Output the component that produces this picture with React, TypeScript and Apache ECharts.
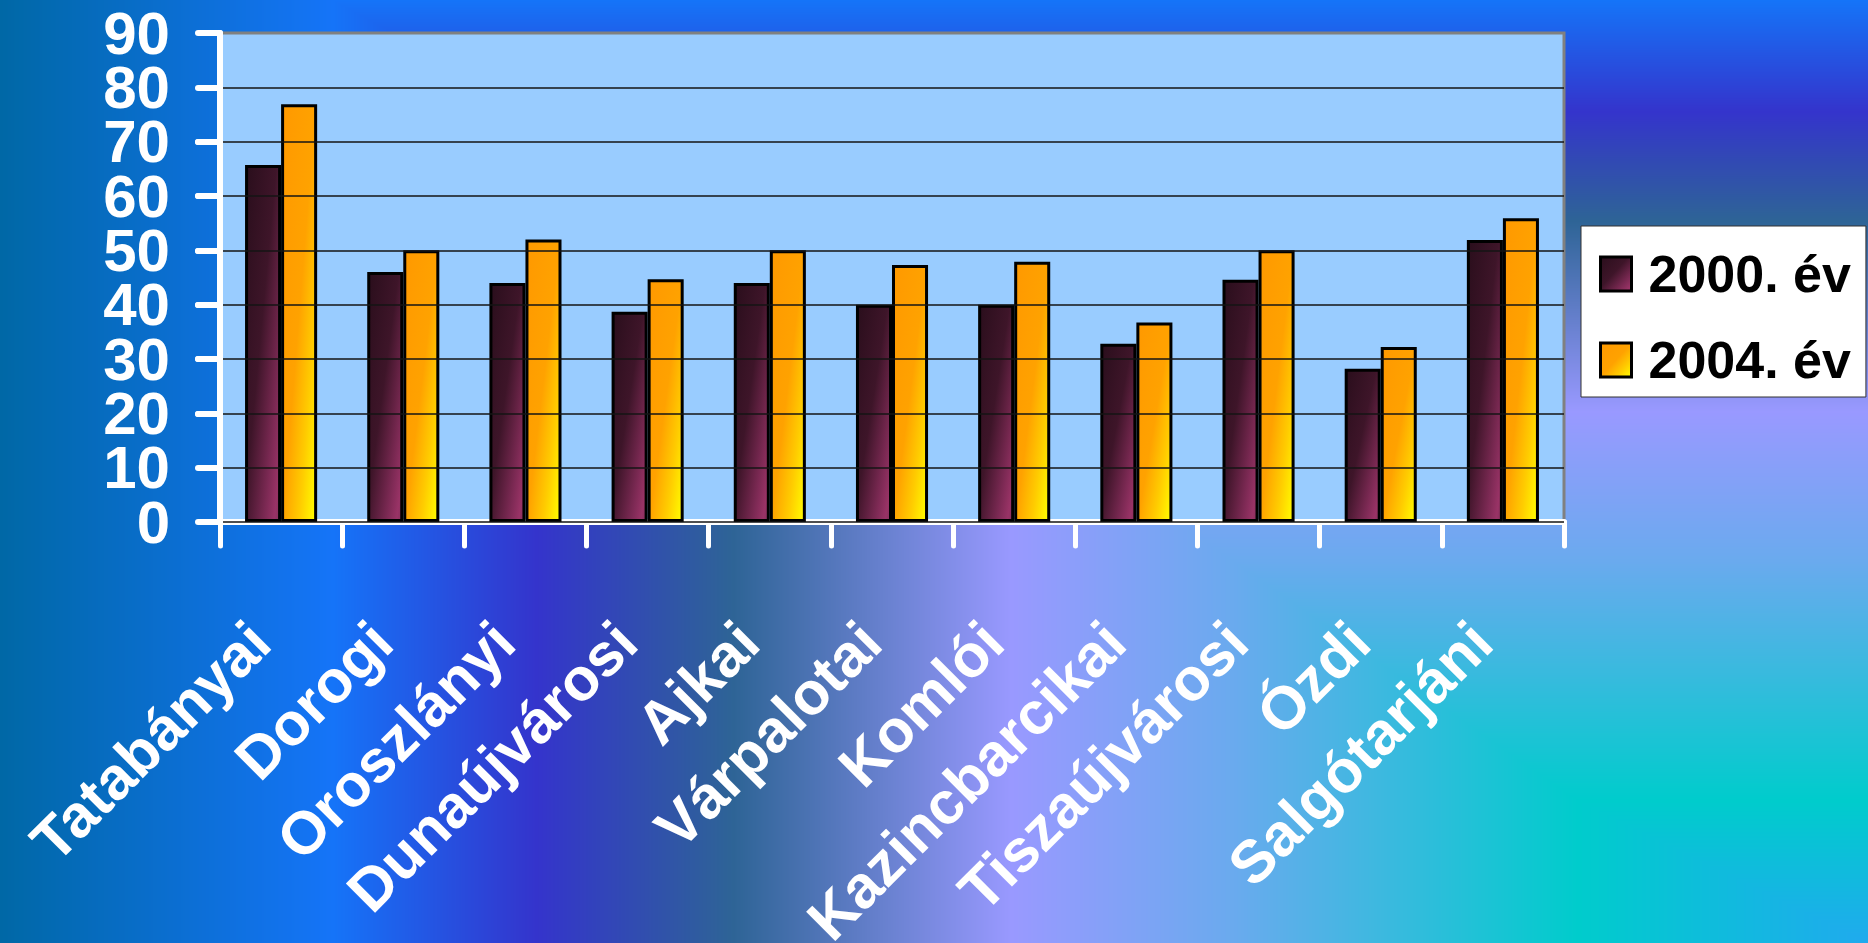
import React, { useEffect, useRef } from "react";
import * as echarts from "echarts";

const categories = [
  "Tatabányai",
  "Dorogi",
  "Oroszlányi",
  "Dunaújvárosi",
  "Ajkai",
  "Várpalotai",
  "Komlói",
  "Kazincbarcikai",
  "Tiszaújvárosi",
  "Ózdi",
  "Salgótarjáni",
];
const seriesNames = ["2000. év", "2004. év"];
const values2000 = [65.7, 46, 44, 38.7, 44, 40, 40, 32.8, 44.6, 28.2, 51.9];
const values2004 = [76.9, 50, 52, 44.7, 50, 47.3, 47.9, 36.7, 50, 32.2, 55.9];
const yMin = 0;
const yMax = 90;
const yInterval = 10;

const W = 1868;
const H = 943;

// background "from corner" gradient description (style)
const bgColors = ["#0068A6", "#1574F8", "#3434CC", "#2E6496", "#9999FF", "#6AAAEE", "#00CCCC", "#20AAEE"];
const bgXs = [0, 333, 536, 733, 1011, 1232, 1577, 1868];
const bgYs = [0, 111, 221, 411, 560, 800, 943]; // maps to indices 1..7

function hexRgb(h: string) {
  const n = parseInt(h.slice(1), 16);
  return [(n >> 16) & 255, (n >> 8) & 255, n & 255];
}

function piece(v: number, xs: number[], base: number) {
  if (v <= xs[0]) return base;
  for (let i = 1; i < xs.length; i++) {
    if (v <= xs[i]) return base + i - 1 + (v - xs[i - 1]) / (xs[i] - xs[i - 1]);
  }
  return base + xs.length - 1;
}

function drawBackground(canvas: HTMLCanvasElement) {
  const ctx = canvas.getContext("2d");
  if (!ctx) return;
  const img = ctx.createImageData(W, H);
  const d = img.data;
  const rgb = bgColors.map(hexRgb);
  const fx = new Float32Array(W);
  const fy = new Float32Array(H);
  for (let x = 0; x < W; x++) fx[x] = piece(x, bgXs, 0);
  for (let y = 0; y < H; y++) fy[y] = piece(y, bgYs, 1);
  for (let y = 0; y < H; y++) {
    for (let x = 0; x < W; x++) {
      const t = Math.min(fx[x], fy[y]);
      const i = Math.min(Math.floor(t), rgb.length - 2);
      const f = t - i;
      const a = rgb[i];
      const b = rgb[i + 1];
      const p = (y * W + x) * 4;
      d[p] = a[0] + (b[0] - a[0]) * f;
      d[p + 1] = a[1] + (b[1] - a[1]) * f;
      d[p + 2] = a[2] + (b[2] - a[2]) * f;
      d[p + 3] = 255;
    }
  }
  ctx.putImageData(img, 0, 0);
}

const FONT = '"Liberation Sans", Arial, Helvetica, sans-serif';

export default function App() {
  const chartRef = useRef<HTMLDivElement>(null);
  const bgRef = useRef<HTMLCanvasElement>(null);

  useEffect(() => {
    if (bgRef.current) drawBackground(bgRef.current);
    if (!chartRef.current) return;
    const chart = echarts.init(chartRef.current, null, { renderer: "svg" });

    const grad2000 = new echarts.graphic.LinearGradient(0, 0, 1, 1, [
      { offset: 0, color: "#2A0E1C" },
      { offset: 0.45, color: "#3E1529" },
      { offset: 0.78, color: "#7E2A55" },
      { offset: 0.92, color: "#993366" },
      { offset: 1, color: "#86305C" },
    ]);
    const grad2004 = new echarts.graphic.LinearGradient(0, 0, 1, 1, [
      { offset: 0, color: "#FF9900" },
      { offset: 0.5, color: "#FFA200" },
      { offset: 0.75, color: "#FFCC00" },
      { offset: 1, color: "#FFFF00" },
    ]);

    const splitColors = Array.from({ length: 10 }, (_, i) => (i === 9 ? "#808080" : "#141414"));

    const yLabelStyle = {
      margin: 50,
      color: "#FFFFFF",
      fontSize: 60,
      fontWeight: "bold",
      fontFamily: FONT,
    };
    const yTickStyle = {
      show: true,
      length: 22,
      lineStyle: { color: "#FFFFFF", width: 6, cap: "round" },
    };
    const secondMin = yMin + yInterval;
    const secondMax = yMax - yInterval;

    chart.setOption({
      animation: false,
      backgroundColor: "transparent",
      grid: {
        left: 220,
        top: 33,
        right: 304,
        bottom: 421,
        show: true,
        backgroundColor: "#99CCFF",
        borderColor: "#808080",
        borderWidth: 3,
        containLabel: false,
        outerBoundsMode: "none",
      },
      legend: {
        orient: "vertical",
        left: 1581,
        top: 226,
        backgroundColor: "#FFFFFF",
        borderColor: "#333333",
        borderWidth: 1,
        borderRadius: 0,
        padding: [18, 15, 7, 18],
        itemWidth: 31,
        itemHeight: 34,
        itemGap: 26,
        icon: "rect",
        itemStyle: { borderColor: "#000", borderWidth: 3 },
        textStyle: {
          fontSize: 52,
          fontWeight: "bold",
          color: "#000",
          fontFamily: FONT,
          lineHeight: 60,
          padding: [0, 0, 0, 12],
        },
        data: seriesNames,
      },
      xAxis: {
        type: "category",
        data: categories,
        boundaryGap: true,
        axisLine: { show: true, lineStyle: { color: "#FFFFFF", width: 6 } },
        axisTick: {
          show: true,
          length: 24,
          lineStyle: { color: "#FFFFFF", width: 5, cap: "round" },
        },
        axisLabel: {
          interval: 0,
          rotate: 45,
          margin: 89,
          padding: [0, 30, 0, 0],
          color: "#FFFFFF",
          fontSize: 60,
          fontWeight: "bold",
          fontFamily: FONT,
        },
        splitLine: { show: false },
      },
      yAxis: [
        {
          type: "value",
          position: "left",
          min: yMin,
          max: yMax,
          interval: yInterval,
          axisLine: { show: true, lineStyle: { color: "#FFFFFF", width: 6 } },
          axisTick: yTickStyle,
          axisLabel: { ...yLabelStyle, showMinLabel: true, showMaxLabel: true },
          splitLine: { show: true, lineStyle: { color: splitColors, width: 1.5 } },
          z: 3,
        },
        {
          type: "value",
          position: "left",
          offset: 0,
          min: yMin,
          max: yMax,
          interval: yInterval,
          axisLine: { show: false },
          axisTick: yTickStyle,
          axisLabel: {
            ...yLabelStyle,
            showMinLabel: false,
            showMaxLabel: false,
            formatter: (v: number) => (v === secondMin || v === secondMax ? String(v) : ""),
          },
          splitLine: { show: false },
          z: 3,
        },
      ],
      series: [
        {
          name: seriesNames[0],
          type: "bar",
          data: values2000,
          barGap: "0%",
          barCategoryGap: "41%",
          itemStyle: { color: grad2000, borderColor: "#000", borderWidth: 3 },
        },
        {
          name: seriesNames[1],
          type: "bar",
          data: values2004,
          barGap: "0%",
          barCategoryGap: "41%",
          itemStyle: { color: grad2004, borderColor: "#000", borderWidth: 3 },
        },
      ],
    });

    return () => chart.dispose();
  }, []);

  return (
    <div style={{ position: "fixed", left: 0, top: 0, width: W, height: H, overflow: "hidden" }}>
      <canvas ref={bgRef} width={W} height={H} style={{ position: "absolute", left: 0, top: 0 }} />
      <div ref={chartRef} style={{ position: "absolute", left: 0, top: 0, width: W, height: H }} />
    </div>
  );
}
